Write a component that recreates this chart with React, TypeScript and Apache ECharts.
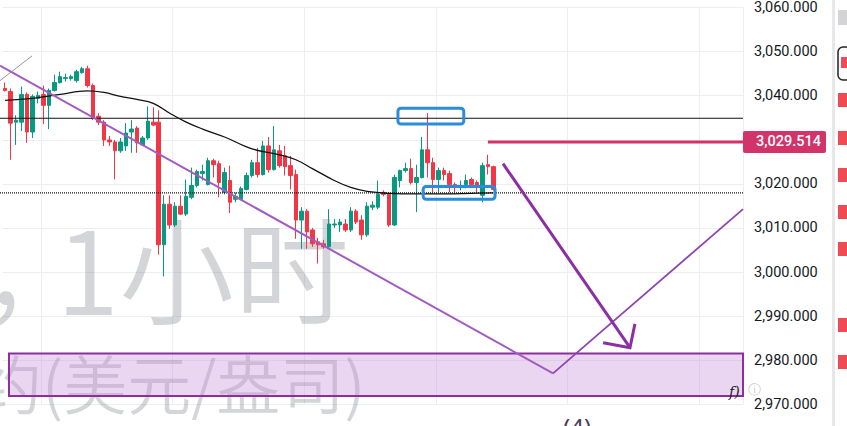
import React, { useEffect, useRef } from "react";
import * as echarts from "echarts";

// ---- price axis ----
const priceMin = 2970;
const priceMax = 3060;
const priceStep = 10;

// ---- hourly slots (candles occupy the first ones, the rest is empty space on the right) ----
const slotCount = 135;
const categories: string[] = Array.from({ length: slotCount }, (_, i) => `${i}`);

// ---- hourly candles: [open, close, low, high] ----
const candles: number[][] = [
  [3041.63, 3041.18, 3040.95, 3042.97],
  [3040.95, 3033.77, 3025.47, 3041.63],
  [3034.0, 3034.45, 3028.84, 3035.56],
  [3034.0, 3040.28, 3031.98, 3042.08],
  [3040.28, 3031.76, 3029.29, 3040.73],
  [3031.76, 3039.83, 3030.41, 3040.28],
  [3039.38, 3040.06, 3038.26, 3040.95],
  [3040.28, 3037.81, 3033.55, 3042.3],
  [3037.81, 3041.18, 3032.43, 3041.63],
  [3041.18, 3042.97, 3040.95, 3044.77],
  [3042.97, 3044.32, 3042.75, 3045.44],
  [3043.87, 3044.09, 3043.2, 3044.99],
  [3043.87, 3044.32, 3043.42, 3044.77],
  [3043.42, 3045.44, 3042.97, 3045.89],
  [3045.22, 3046.11, 3044.99, 3046.56],
  [3046.11, 3042.3, 3041.85, 3046.79],
  [3042.3, 3034.9, 3034.45, 3042.75],
  [3035.34, 3034.0, 3033.33, 3036.02],
  [3034.0, 3029.96, 3028.61, 3034.45],
  [3029.96, 3029.51, 3028.61, 3030.86],
  [3029.51, 3027.49, 3020.99, 3029.96],
  [3027.49, 3029.51, 3027.04, 3030.41],
  [3028.61, 3031.53, 3027.49, 3033.77],
  [3031.76, 3032.43, 3027.04, 3034.45],
  [3032.65, 3029.29, 3027.04, 3033.1],
  [3028.84, 3030.41, 3028.61, 3030.86],
  [3030.41, 3034.22, 3029.96, 3037.59],
  [3034.0, 3033.33, 3033.1, 3037.36],
  [3034.0, 3006.18, 3003.94, 3036.69],
  [3006.18, 3015.38, 2999.0, 3017.4],
  [3015.38, 3010.67, 3009.77, 3017.4],
  [3010.67, 3014.93, 3010.22, 3015.83],
  [3014.93, 3013.14, 3012.91, 3017.4],
  [3013.14, 3017.17, 3012.69, 3020.99],
  [3016.95, 3019.64, 3016.5, 3023.68],
  [3019.64, 3022.78, 3019.19, 3023.23],
  [3022.33, 3022.78, 3020.76, 3024.35],
  [3019.86, 3025.25, 3019.64, 3025.92],
  [3025.25, 3024.35, 3021.44, 3025.7],
  [3024.58, 3020.31, 3016.95, 3025.25],
  [3018.07, 3022.56, 3017.62, 3023.68],
  [3020.76, 3015.83, 3013.36, 3024.13],
  [3016.5, 3017.17, 3015.83, 3018.07],
  [3016.5, 3018.97, 3016.28, 3019.41],
  [3018.74, 3021.88, 3018.52, 3022.56],
  [3021.88, 3024.8, 3021.44, 3025.47],
  [3024.8, 3022.11, 3021.44, 3028.17],
  [3022.11, 3028.61, 3021.88, 3029.74],
  [3028.61, 3023.23, 3022.56, 3030.63],
  [3023.23, 3027.72, 3023.01, 3033.1],
  [3027.49, 3024.13, 3023.68, 3028.84],
  [3026.37, 3023.9, 3021.88, 3028.61],
  [3024.13, 3021.88, 3018.74, 3026.37],
  [3022.11, 3011.79, 3007.53, 3023.23],
  [3011.79, 3013.81, 3005.28, 3014.71],
  [3013.81, 3009.1, 3005.28, 3014.26],
  [3009.55, 3006.41, 3005.73, 3010.0],
  [3006.85, 3006.18, 3001.92, 3007.75],
  [3006.41, 3005.73, 3005.28, 3007.3],
  [3005.73, 3010.89, 3005.5, 3014.26],
  [3010.67, 3010.89, 3010.0, 3012.02],
  [3010.67, 3011.34, 3009.1, 3012.02],
  [3010.89, 3009.55, 3009.1, 3012.02],
  [3009.55, 3013.81, 3009.1, 3014.71],
  [3013.81, 3011.34, 3010.89, 3014.26],
  [3011.79, 3008.43, 3007.3, 3012.91],
  [3008.43, 3014.93, 3007.98, 3015.83],
  [3014.71, 3015.16, 3014.03, 3016.05],
  [3014.71, 3017.62, 3014.26, 3020.76],
  [3018.07, 3017.62, 3017.17, 3018.52],
  [3017.62, 3010.67, 3010.22, 3018.07],
  [3010.67, 3021.44, 3010.45, 3022.11],
  [3020.76, 3023.01, 3019.19, 3023.23],
  [3023.01, 3023.46, 3022.56, 3024.8],
  [3023.46, 3020.31, 3019.86, 3025.7],
  [3020.31, 3021.44, 3013.59, 3024.35],
  [3021.44, 3027.72, 3021.21, 3030.63],
  [3027.72, 3024.8, 3021.44, 3036.02],
  [3024.8, 3020.99, 3018.07, 3025.92],
  [3020.99, 3023.01, 3018.07, 3023.68],
  [3023.01, 3022.11, 3020.76, 3023.68],
  [3022.33, 3019.86, 3018.07, 3023.01],
  [3019.86, 3019.19, 3018.07, 3020.31],
  [3019.41, 3019.64, 3018.52, 3020.76],
  [3019.86, 3020.76, 3018.97, 3022.11],
  [3020.99, 3019.86, 3019.19, 3021.44],
  [3020.31, 3019.19, 3018.07, 3020.76],
  [3017.4, 3024.13, 3015.83, 3024.8],
  [3024.35, 3023.9, 3022.11, 3026.6],
  [3023.9, 3018.74, 3018.52, 3024.13],
];

// ---- moving average, read at selected candles: [candle index, price] ----
const maPoints: number[][] = [
  [0, 3038.93], [5, 3039.38], [10, 3040.28], [15, 3041.07], [18, 3040.73],
  [21, 3039.83], [24, 3039.16], [27, 3038.26], [30, 3036.02], [33, 3034.0],
  [36, 3032.43], [40, 3030.63], [45, 3027.94], [50, 3026.6], [53, 3025.47],
  [56, 3023.46], [60, 3020.76], [63, 3019.19], [66, 3018.29], [70, 3017.85],
  [75, 3017.73], [80, 3017.73], [85, 3017.85], [89, 3017.96],
];

// ---- drawn levels and shapes, in [slot index, price] ----
const resistanceLevel = 3034.88;
const supportLevel = 3017.96;
const rayPrice = 3029.514;
const rayStartSlot = 88;
const oldTrend: number[][] = [[-0.94, 3043.42], [4.9, 3049.03]];
const trendV: number[][] = [[-0.94, 3046.8], [99.87, 2977.02], [134.5, 3014.26]];
const arrowShaft: number[][] = [[90.75, 3024.58], [113.9, 2982.85]];
const arrowHead: number[][] = [[109.0, 2983.97], [113.9, 2982.85], [114.8, 2988.23]];
const targetZone = { from: 0.7, to: 134.5, top: 2981.5, bottom: 2971.86 };
const highBox = { from: 71.6, to: 83.6, top: 3037.14, bottom: 3033.55 };
const baseBox = { from: 76.2, to: 89.3, top: 3019.42, bottom: 3016.5 };

// ---- watermark ----
const watermarkTitle = "1小时";
const watermarkUnit = "约(美元/盎司)";
const waveLabel = "(4)";

const UP = "#089981";
const DOWN = "#f23645";
const WATERMARK = "rgba(120,123,134,0.32)";
const fmt = (v: number) =>
  v.toLocaleString("en-US", { minimumFractionDigits: 3, maximumFractionDigits: 3 });

export default function App() {
  const ref = useRef<HTMLDivElement>(null);

  useEffect(() => {
    if (!ref.current) return;
    const chart = echarts.init(ref.current, null, { renderer: "svg" });

    const maData: (number | null)[] = candles.map(() => null);
    maPoints.forEach(([i, v]) => (maData[i] = v));

    chart.setOption({
      animation: false,
      backgroundColor: "#ffffff",
      grid: { left: 2.4, right: 104, top: 3.1, bottom: 21.7 },
      xAxis: {
        type: "category",
        data: categories,
        boundaryGap: true,
        axisLine: { show: false },
        axisTick: { show: false },
        axisLabel: { show: false },
        splitLine: {
          show: true,
          interval: (index: number) => index % 24 === 7,
          lineStyle: { color: "#eceef2", width: 1 },
        },
      },
      yAxis: {
        type: "value",
        position: "right",
        min: priceMin,
        max: priceMax,
        interval: priceStep,
        scale: true,
        axisLine: { show: false },
        axisTick: { show: false },
        axisLabel: {
          margin: 11,
          color: "#131722",
          fontSize: 14.5,
          fontFamily: "Roboto, sans-serif",
          // the tick hidden under the ray's price tag stays blank
          formatter: (v: number) => (Math.abs(v - rayPrice) < 2 ? "" : fmt(v)),
        },
        splitLine: { lineStyle: { color: "#eceef2", width: 1 } },
      },
      series: [
        {
          type: "candlestick",
          data: candles,
          barWidth: 4,
          z: 3,
          itemStyle: {
            color: UP,
            color0: DOWN,
            borderColor: UP,
            borderColor0: DOWN,
            borderWidth: 1,
          },
        },
        {
          type: "line",
          data: maData,
          connectNulls: true,
          smooth: 0.4,
          symbol: "none",
          z: 4,
          lineStyle: { color: "#111111", width: 1.3 },
        },
      ],
    });

    const xa = chart.convertToPixel({ xAxisIndex: 0 }, 0) as number;
    const xb = chart.convertToPixel({ xAxisIndex: 0 }, 1) as number;
    const X = (i: number) => xa + i * (xb - xa);
    const Y = (v: number) => chart.convertToPixel({ yAxisIndex: 0 }, v) as number;
    const pts = (arr: number[][]) => arr.map(([i, v]) => [X(i), Y(v)]);
    const right = X(slotCount - 0.5);

    const boxEl = (b: { from: number; to: number; top: number; bottom: number }) => ({
      type: "rect",
      z: 30,
      shape: { x: X(b.from), y: Y(b.top), width: X(b.to) - X(b.from), height: Y(b.bottom) - Y(b.top), r: 3 },
      style: { fill: "none", stroke: "#2a8ddb", lineWidth: 3 },
    });

    const rayY = Y(rayPrice);
    const sideSquares = [93, 131, 168, 205, 242, 318, 355];

    const graphic: any[] = [
      // watermark
      {
        type: "text", z: 1, x: -10, y: 255,
        style: { text: ",", font: '350 115px "Noto Sans CJK SC"', fill: WATERMARK, verticalAlign: "middle" },
      },
      {
        type: "text", z: 1, x: 56, y: 265,
        style: { text: watermarkTitle, font: '350 115px "Noto Sans CJK SC"', fill: WATERMARK, verticalAlign: "middle" },
      },
      {
        type: "text", z: 1, x: -22, y: 381,
        style: { text: watermarkUnit, font: '350 64px "Noto Sans CJK SC"', fill: WATERMARK, verticalAlign: "middle" },
      },
      // target zone
      {
        type: "rect", z: 2,
        shape: { x: X(targetZone.from), y: Y(targetZone.top), width: X(targetZone.to) - X(targetZone.from), height: Y(targetZone.bottom) - Y(targetZone.top) },
        style: { fill: "rgba(200,140,215,0.36)", stroke: "#8e2e9e", lineWidth: 2 },
      },
      // horizontal levels
      { type: "line", z: 20, shape: { x1: 0, y1: Y(resistanceLevel), x2: right, y2: Y(resistanceLevel) }, style: { stroke: "#111", lineWidth: 1 } },
      { type: "line", z: 20, shape: { x1: 0, y1: Y(supportLevel), x2: right, y2: Y(supportLevel) }, style: { stroke: "#111", lineWidth: 1.3, lineDash: [1, 1] } },
      // trend lines
      { type: "polyline", z: 25, shape: { points: pts(oldTrend) }, style: { stroke: "#a08cab", lineWidth: 1, fill: "none" } },
      { type: "polyline", z: 25, shape: { points: pts(trendV.slice(0, 2)) }, style: { stroke: "#a25cbf", lineWidth: 2, fill: "none" } },
      { type: "polyline", z: 25, shape: { points: pts(trendV.slice(1)) }, style: { stroke: "#8f45ad", lineWidth: 1.8, fill: "none" } },
      // projected move
      { type: "polyline", z: 26, shape: { points: pts(arrowShaft) }, style: { stroke: "#8b2fa2", lineWidth: 3, fill: "none" } },
      { type: "polyline", z: 26, shape: { points: pts(arrowHead) }, style: { stroke: "#8b2fa2", lineWidth: 3, fill: "none", lineJoin: "miter" } },
      // highlighted areas
      boxEl(highBox),
      boxEl(baseBox),
      // price ray and its label
      { type: "line", z: 28, shape: { x1: X(rayStartSlot), y1: rayY, x2: right, y2: rayY }, style: { stroke: "#d23369", lineWidth: 3 } },
      { type: "rect", z: 28, shape: { x: right, y: rayY - 11, width: 83, height: 22, r: 2 }, style: { fill: "#d23369" } },
      {
        type: "text", z: 29, x: right + 13, y: rayY,
        style: { text: fmt(rayPrice), font: '500 14.5px Roboto, sans-serif', fill: "#ffffff", verticalAlign: "middle" },
      },
      // wave count label
      {
        type: "text", z: 29, x: 563, y: 414,
        style: { text: waveLabel, font: '24px "Noto Sans", sans-serif', fill: "#4a3d56", verticalAlign: "top" },
      },
      {
        type: "text", z: 29, x: 729, y: 392,
        style: { text: "f)", font: 'italic 14px "DejaVu Serif", serif', fill: "#222", verticalAlign: "middle" },
      },
      {
        type: "text", z: 29, x: 748, y: 389,
        style: { text: "ⓘ", font: '13px "DejaVu Sans", sans-serif', fill: "rgba(120,120,130,0.45)", verticalAlign: "middle" },
      },
      // right tool strip
      { type: "rect", z: 29, shape: { x: 832, y: 0, width: 3, height: 426 }, style: { fill: "#e8e8ea" } },
      { type: "rect", z: 29, shape: { x: 838, y: 10, width: 12, height: 15 }, style: { fill: "#d4d4d6" } },
      { type: "rect", z: 29, shape: { x: 838, y: 47, width: 14, height: 33, r: 5 }, style: { fill: "#fff", stroke: "#222", lineWidth: 1.5 } },
      { type: "rect", z: 30, shape: { x: 841, y: 57, width: 9, height: 11 }, style: { fill: "#f04a55" } },
      ...sideSquares.map((y) => ({
        type: "rect", z: 29, shape: { x: 838, y, width: 12, height: 14 }, style: { fill: "#f04a55" },
      })),
    ];

    chart.setOption({ graphic });
    return () => chart.dispose();
  }, []);

  return (
    <div
      ref={ref}
      style={{ position: "fixed", left: 0, top: 0, width: 847, height: 426, background: "#fff" }}
    />
  );
}
